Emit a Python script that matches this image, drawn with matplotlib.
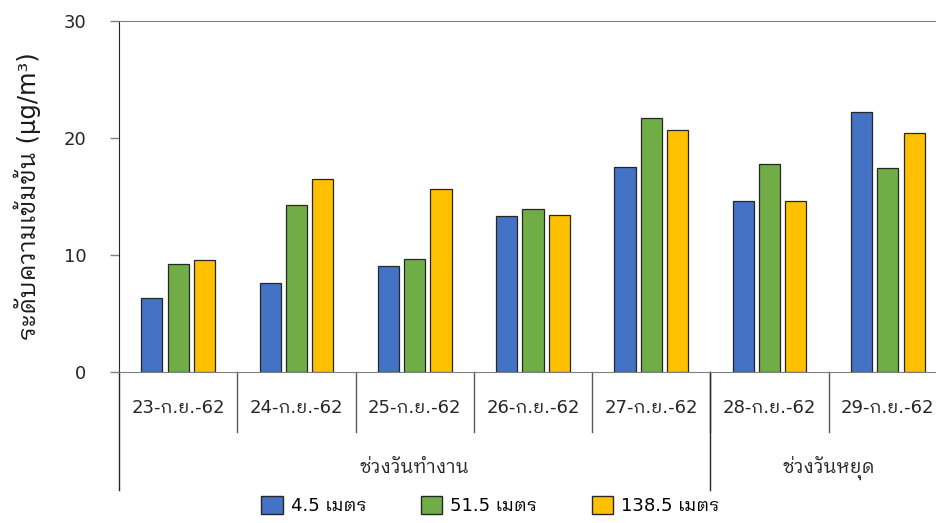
import numpy as np
import matplotlib
matplotlib.use("Agg")
import matplotlib.pyplot as plt
from matplotlib import font_manager
from matplotlib.ft2font import FT2Font
import matplotlib.transforms as mtransforms
from matplotlib.patches import Patch

dates = ['23-ก.ย.-62', '24-ก.ย.-62', '25-ก.ย.-62', '26-ก.ย.-62',
         '27-ก.ย.-62', '28-ก.ย.-62', '29-ก.ย.-62']
heights = ['4.5 เมตร', '51.5 เมตร', '138.5 เมตร']
h_4_5 = [6.3, 7.6, 9.1, 13.3, 17.5, 14.6, 22.2]
h_51_5 = [9.2, 14.3, 9.7, 13.9, 21.7, 17.8, 17.4]
h_138_5 = [9.6, 16.5, 15.6, 13.4, 20.7, 14.6, 20.4]
groups = ['ช่วงวันทำงาน', 'ช่วงวันหยุด']
group_sizes = [5, 2]
colors = ['#4472C4', '#70AD47', '#FFC000']


# pick an installed family that can draw Thai
def find_thai_family():
    found = []
    for fe in font_manager.fontManager.ttflist:
        try:
            if FT2Font(fe.fname).get_char_index(0x0E01):
                found.append(fe.name)
        except Exception:
            pass
    for pref in ('Tahoma', 'Leelawadee', 'Looped', 'Noto Sans Thai', 'Thai'):
        for name in found:
            if pref in name:
                return name
    return found[0] if found else None


thai = find_thai_family()
families = ['DejaVu Sans'] + ([thai] if thai else [])
plt.rcParams['font.family'] = families

fig = plt.figure(figsize=(9.36, 5.23), dpi=100)
ax = fig.add_axes([119 / 936, 151 / 523, 828 / 936, 351 / 523])

x = np.arange(len(dates))
w = 0.178
step = 0.222
for k, vals in enumerate([h_4_5, h_51_5, h_138_5]):
    ax.bar(x + (k - 1) * step, vals, w, color=colors[k],
           edgecolor='#262626', linewidth=0.9, label=heights[k])

ax.set_xlim(-0.5, len(dates) - 0.5)
ax.set_ylim(0, 30)
ax.set_yticks([0, 10, 20, 30])
ax.tick_params(axis='y', length=6.5, width=1, color='#808080',
               labelsize=13, pad=17, labelcolor='#262626')
ax.set_xticks([])

ax.spines['right'].set_visible(False)
ax.spines['top'].set_color('#808080')
ax.spines['left'].set_color('#262626')
ax.spines['bottom'].set_color('#808080')

ax.set_ylabel('ระดับความเข้มข้น (µg/m³)', fontsize=17.5, color='#1a1a1a')
ax.yaxis.set_label_coords(-0.094, 0.5)

# category labels and separators under the axis
trans = mtransforms.blended_transform_factory(ax.transData, ax.transAxes)
for i, d in enumerate(dates):
    ax.text(i, -0.103, d, transform=trans, ha='center', va='center',
            fontsize=13, color='#262626')
for i in range(1, len(dates)):
    ax.plot([i - 0.5, i - 0.5], [0, -0.171], transform=trans,
            color='#595959', lw=1, clip_on=False)

edges = np.concatenate([[0], np.cumsum(group_sizes)]) - 0.5
for e in edges[:-1]:
    ax.plot([e, e], [0, -0.336], transform=trans,
            color='#262626', lw=1, clip_on=False)
for g, a, b in zip(groups, edges[:-1], edges[1:]):
    ax.text((a + b) / 2, -0.272, g, transform=trans, ha='center',
            va='center', fontsize=13.5, color='#262626')

handles = [Patch(facecolor=c, edgecolor='#262626', label=l)
           for c, l in zip(colors, heights)]
fig.legend(handles=handles, loc='center', bbox_to_anchor=(0.524, 0.034),
           ncol=3, frameon=False, fontsize=13, handlelength=1.2,
           handleheight=1.2, columnspacing=3.0, handletextpad=0.45)

fig.savefig('out.png', dpi=100)
